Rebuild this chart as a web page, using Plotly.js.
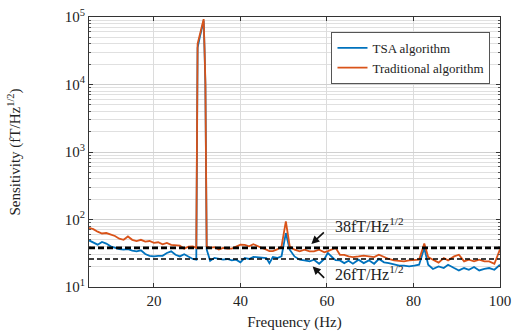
<!DOCTYPE html>
<html>
<head>
<meta charset="utf-8">
<script src="https://cdn.plot.ly/plotly-3.0.1.min.js"></script>
<style>html,body{margin:0;padding:0;background:#fff;}#chart{width:515px;height:333px;}</style>
</head>
<body>
<div id="chart"></div>
<script>
// Frequency (Hz)
const freq = [5,6,7,8,9,10,11,12,13,14,15,16,17,18,19,20,21,22,23,24,25,26,27,28,29,29.8,30.1,30.6,31.5,31.7,31.9,32.2,
  33,34,35,36,37,38,39,40,41,42,43,44,45,46,46.7,47.5,48.5,49.5,50.5,51.4,52.5,53.7,54.8,56,57,58.2,59.4,60.2,61.4,62,
  63,64,65,66,67.3,68.5,69.7,70.9,72,73.2,74.3,75.5,76.7,77.8,79,80.2,81.3,82.5,83.4,84.5,85.8,87,88,89.4,90.5,91.7,92.8,94,95.2,96.4,97.5,98.7,100];
// TSA algorithm sensitivity (fT/Hz^1/2)
const tsa = [49,45,42.4,46.5,44,40,38,36.5,35.7,36.5,34.5,33.7,35,30.8,29,28.4,29,29,31.9,33.7,30,28.4,30.5,28.4,26,25.4,35000,50000,88000,33000,10000,36,
  24.4,27,26,25.4,26,24.8,25.4,23.2,27,26,28,27.8,27,26.9,22.6,27.8,26.9,28.4,63,35.7,28.4,25.4,24.8,24,25.4,22.1,26,31.9,26.9,25,
  24.8,22.6,24.5,22.1,25.4,22.6,24.8,22.1,26,23.2,22.6,21.4,20.7,20.7,20.2,20.7,21.4,37.8,21.4,18.5,20.2,19.1,21.4,19.1,17.6,19.1,18,19.8,17.6,18.5,19.1,18,21.4];
// Traditional algorithm sensitivity (fT/Hz^1/2)
const traditional = [75,72,66,62,63,60,57,52,50,56,50,48,50,47,48,45,46,43,45,42,41,41,37,39.5,40,38,40000,55000,93000,35000,11000,40,
  38,39,36,38,37,37,40,42.4,42,40,43,40,37.8,35.7,34,34,36,40,94,40,35.7,33.7,35.7,33.7,33.7,35.7,32.6,34,36,38,
  30,30,28.4,27.8,28.4,29.1,28.4,27.8,30.1,27.8,26,24.8,24.5,24,24.8,25.4,25.4,44,27.8,25.4,23,26.9,24.8,28.4,30.1,24,25.4,24,25.4,24,24,22.1,36];
// Reference levels
const levelHigh = 38;
const levelLow = 26;
const xRange = [5, 100];
const xTicks = [20, 40, 60, 80, 100];
const yTicks = [10, 100, 1000, 10000, 100000];
const yTickText = ['10<sup>1</sup>','10<sup>2</sup>','10<sup>3</sup>','10<sup>4</sup>','10<sup>5</sup>'];

const FONT = 'Liberation Serif, Times New Roman, serif';

const traces = [
  {x: freq, y: tsa, type: 'scatter', mode: 'lines', name: 'TSA algorithm',
   line: {color: '#0072BD', width: 1.8}},
  {x: freq, y: traditional, type: 'scatter', mode: 'lines', name: 'Traditional algorithm',
   line: {color: '#D95319', width: 1.8}},
  {x: xRange, y: [levelHigh, levelHigh], type: 'scatter', mode: 'lines', showlegend: false,
   line: {color: '#000', width: 2.8, dash: '6px,3px'}},
  {x: xRange, y: [levelLow, levelLow], type: 'scatter', mode: 'lines', showlegend: false,
   line: {color: '#000', width: 1.4, dash: '5px,3px'}}
];

const layout = {
  width: 515, height: 333,
  margin: {l: 89, r: 15, t: 17, b: 46},
  paper_bgcolor: '#fff', plot_bgcolor: '#fff',
  font: {family: FONT, color: '#222', size: 14},
  showlegend: true,
  legend: {x: 0.59, y: 0.945, xanchor: 'left', yanchor: 'top',
    bgcolor: '#fff', bordercolor: '#555', borderwidth: 1,
    font: {family: FONT, size: 13, color: '#222'}, tracegroupgap: 0},
  xaxis: {
    range: xRange, tickvals: xTicks, ticks: 'inside', ticklen: 4, tickcolor: '#333',
    showline: true, linecolor: '#333', linewidth: 1, mirror: 'ticks',
    showgrid: true, gridcolor: '#dcdcdc', zeroline: false,
    tickfont: {family: FONT, size: 15, color: '#222'},
    title: {text: 'Frequency (Hz)', font: {family: FONT, size: 15, color: '#222'}, standoff: 8}
  },
  yaxis: {
    type: 'log', range: [1, 5], tickvals: yTicks, ticktext: yTickText,
    ticks: 'inside', ticklen: 4, tickcolor: '#333',
    showline: true, linecolor: '#333', linewidth: 1, mirror: 'ticks',
    showgrid: true, gridcolor: '#d0d0d0', zeroline: false,
    minor: {dtick: 'D1', ticks: 'inside', ticklen: 2, tickcolor: '#555', showgrid: true, gridcolor: '#e0e0e0'},
    tickfont: {family: FONT, size: 15, color: '#222'},
    title: {text: 'Sensitivity (fT/Hz<sup>1/2</sup>)', font: {family: FONT, size: 15, color: '#222'}, standoff: 40}
  },
  shapes: [
    {type: 'rect', layer: 'between', xref: 'x', yref: 'paper', x0: 60.3, x1: 79.7, y0: 0.175, y1: 0.285,
     fillcolor: '#fff', line: {width: 0}},
    {type: 'rect', layer: 'between', xref: 'x', yref: 'paper', x0: 60.3, x1: 79.7, y0: 0.0, y1: 0.08,
     fillcolor: '#fff', line: {width: 0}}
  ],
  annotations: [
    {x: 69.9, y: Math.log10(84), xref: 'x', yref: 'y', text: '38fT/Hz<sup>1/2</sup>', showarrow: false,
     font: {family: FONT, size: 16, color: '#222'}},
    {x: 69.9, y: Math.log10(16.3), xref: 'x', yref: 'y', text: '26fT/Hz<sup>1/2</sup>', showarrow: false,
     font: {family: FONT, size: 16, color: '#222'}},
    {x: 56.4, y: Math.log10(43.4), xref: 'x', yref: 'y', text: '', showarrow: true,
     ax: 14, ay: -13, arrowhead: 2, arrowsize: 1, arrowwidth: 1.6, arrowcolor: '#111'},
    {x: 56.7, y: Math.log10(20.2), xref: 'x', yref: 'y', text: '', showarrow: true,
     ax: 13, ay: 13, arrowhead: 2, arrowsize: 1, arrowwidth: 1.6, arrowcolor: '#111'}
  ]
};

Plotly.newPlot('chart', traces, layout, {displayModeBar: false, staticPlot: true});
</script>
</body>
</html>
